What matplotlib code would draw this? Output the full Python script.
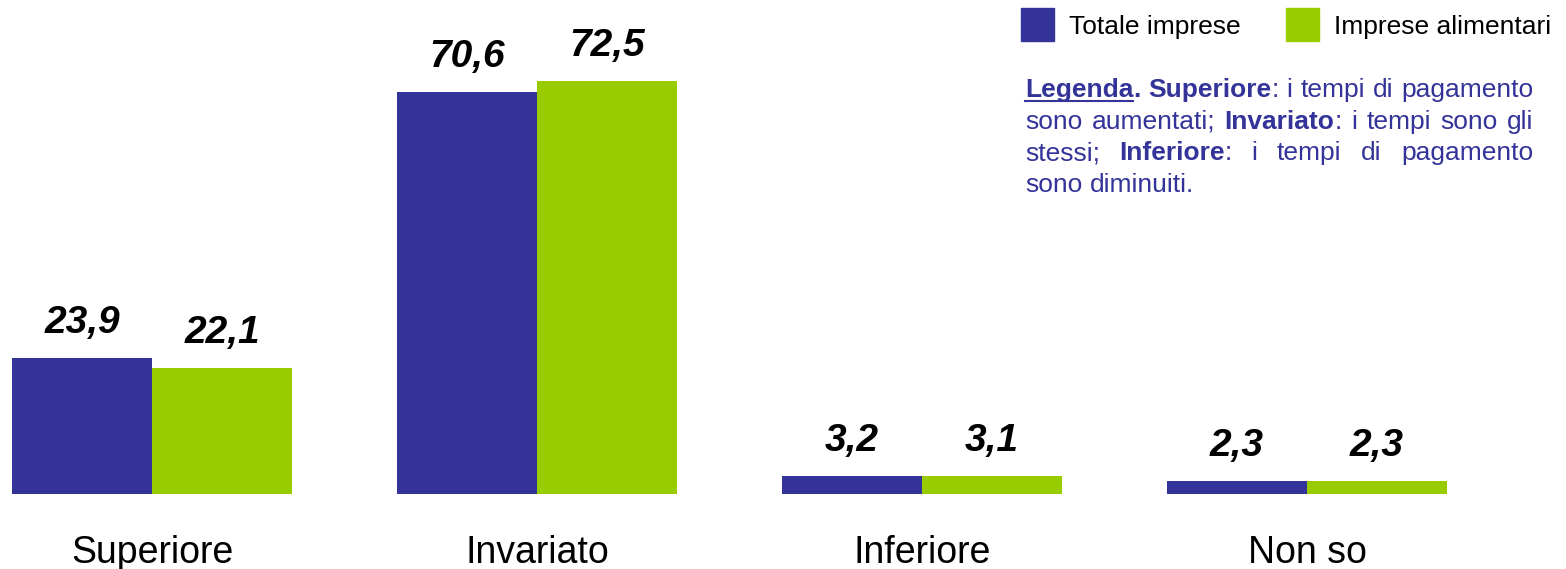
import matplotlib
matplotlib.use("Agg")
import matplotlib.pyplot as plt
import matplotlib.transforms as mtransforms
from matplotlib.patches import Rectangle
from matplotlib.lines import Line2D
import numpy as np

categorie = ["Superiore", "Invariato", "Inferiore", "Non so"]
totale_imprese = [23.9, 70.6, 3.2, 2.3]
imprese_alimentari = [22.1, 72.5, 3.1, 2.3]
serie = ["Totale imprese", "Imprese alimentari"]

BLU = "#333399"
VERDE = "#99cc00"
FONT = "Liberation Sans"

W, H = 1566, 569
fig = plt.figure(figsize=(W / 100, H / 100), dpi=100)

# asse: base delle barre a 494 px dall'alto, 5.69 px per punto percentuale
ax = fig.add_axes([0, 75 / H, 1, 494 / H])
passo = 385.0
ax.set_xlim(-152 / passo, (W - 152) / passo)
ax.set_ylim(0, 494 / 5.69)
ax.axis("off")

x = np.arange(len(categorie))
w = 140 / passo
b1 = ax.bar(x - w / 2, totale_imprese, w, color=BLU, linewidth=0)
b2 = ax.bar(x + w / 2, imprese_alimentari, w, color=VERDE, linewidth=0)

for barre, valori in [(b1, totale_imprese), (b2, imprese_alimentari)]:
    for b, v in zip(barre, valori):
        ax.annotate(f"{v:.1f}".replace(".", ","),
                    (b.get_x() + b.get_width() / 2, v),
                    xytext=(0, 18), textcoords="offset points",
                    ha="center", va="baseline", fontsize=28,
                    fontweight="bold", fontstyle="italic", family=FONT)

trans = mtransforms.blended_transform_factory(ax.transData, fig.transFigure)
for i, c in enumerate(categorie):
    ax.text(i, 1 - 563 / H, c, transform=trans, ha="center", va="baseline",
            fontsize=27, family=FONT, clip_on=False)


def px(xp, yp):
    return xp / W, 1 - yp / H


# legenda delle serie
for (x0, xt), nome, col in zip([(1021, 1069), (1286, 1334)], serie, [BLU, VERDE]):
    fig.patches.append(Rectangle(px(x0, 41), 33 / W, 33 / H, color=col,
                                 transform=fig.transFigure, figure=fig))
    fig.text(*px(xt, 34), nome, fontsize=19, family=FONT, va="baseline")

# nota esplicativa, testo giustificato
righe = [
    [[("Legenda", "bold", True), (".", "bold", False)],
     [("Superiore", "bold", False), (":", "normal", False)],
     [("i", "normal", False)], [("tempi", "normal", False)],
     [("di", "normal", False)], [("pagamento", "normal", False)]],
    [[("sono", "normal", False)], [("aumentati;", "normal", False)],
     [("Invariato", "bold", False), (":", "normal", False)],
     [("i", "normal", False)], [("tempi", "normal", False)],
     [("sono", "normal", False)], [("gli", "normal", False)]],
    [[("stessi;", "normal", False)],
     [("Inferiore", "bold", False), (":", "normal", False)],
     [("i", "normal", False)], [("tempi", "normal", False)],
     [("di", "normal", False)], [("pagamento", "normal", False)]],
    [[("sono", "normal", False)], [("diminuiti.", "normal", False)]],
]
FS_NOTA = 19
sx, dx = 1025, 1533
renderer = fig.canvas.get_renderer()


def larghezza(s, peso):
    t = fig.text(0, 0, s, fontsize=FS_NOTA, family=FONT, fontweight=peso)
    bb = t.get_window_extent(renderer)
    t.remove()
    return bb.width


spazio = larghezza("a a", "normal") - larghezza("aa", "normal")

for r, parole in enumerate(righe):
    base = 97 + 31.7 * r
    largh = [[larghezza(s, p) for s, p, _ in parola] for parola in parole]
    tot = sum(sum(l) for l in largh)
    if r < len(righe) - 1:
        gap = (dx - sx - tot) / (len(parole) - 1)
    else:
        gap = spazio
    xc = sx
    for parola, lw in zip(parole, largh):
        for (s, p, sott), l in zip(parola, lw):
            fig.text(*px(xc, base), s, fontsize=FS_NOTA, family=FONT,
                     fontweight=p, color=BLU, va="baseline")
            if sott:
                fig.lines.append(Line2D([xc / W, (xc + l) / W],
                                        [1 - (base + 4) / H] * 2, color=BLU,
                                        linewidth=1.5,
                                        transform=fig.transFigure))
            xc += l
        xc += gap

fig.savefig("out.png", dpi=100)
